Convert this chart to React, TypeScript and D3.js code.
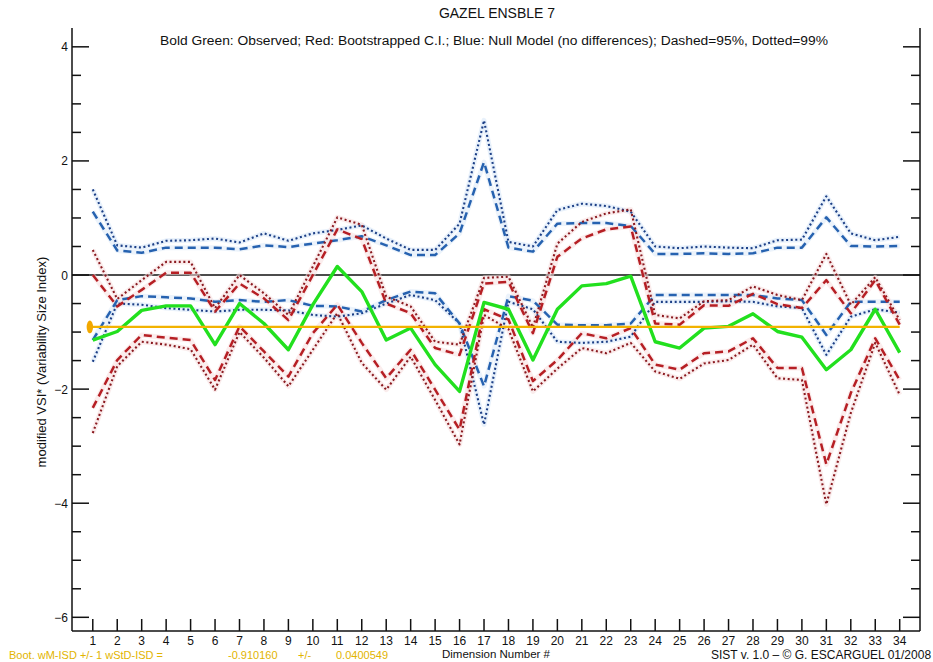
import React from 'react';
import * as d3 from 'd3';

// ---------- data ----------
const dims = [1,2,3,4,5,6,7,8,9,10,11,12,13,14,15,16,17,18,19,20,21,22,23,24,25,26,27,28,29,30,31,32,33,34];

const observed = [-1.14,-0.99,-0.62,-0.54,-0.54,-1.22,-0.5,-0.85,-1.31,-0.52,0.15,-0.29,-1.14,-0.93,-1.57,-2.04,-0.48,-0.6,-1.49,-0.6,-0.19,-0.15,-0.02,-1.17,-1.28,-0.93,-0.9,-0.68,-0.99,-1.09,-1.66,-1.31,-0.6,-1.36];

const nullUp95 = [1.11,0.43,0.39,0.48,0.48,0.48,0.45,0.52,0.49,0.55,0.61,0.68,0.52,0.35,0.35,0.73,1.98,0.48,0.41,0.9,0.91,0.91,0.86,0.37,0.37,0.38,0.37,0.38,0.48,0.48,1.01,0.51,0.5,0.51];
const nullUp99 = [1.5,0.52,0.48,0.6,0.61,0.64,0.57,0.73,0.6,0.73,0.79,0.87,0.64,0.44,0.44,0.9,2.71,0.58,0.5,1.14,1.25,1.21,1.11,0.5,0.47,0.5,0.48,0.47,0.61,0.62,1.38,0.73,0.61,0.67];
const nullLo95 = [-1.14,-0.44,-0.37,-0.39,-0.41,-0.47,-0.44,-0.47,-0.44,-0.54,-0.55,-0.64,-0.44,-0.29,-0.32,-0.85,-1.95,-0.37,-0.45,-0.87,-0.88,-0.88,-0.85,-0.35,-0.35,-0.35,-0.35,-0.35,-0.41,-0.44,-1.05,-0.47,-0.47,-0.47];
const nullLo99 = [-1.52,-0.5,-0.52,-0.58,-0.61,-0.64,-0.61,-0.61,-0.62,-0.7,-0.73,-0.67,-0.5,-0.35,-0.44,-0.85,-2.62,-0.47,-0.6,-1.17,-1.19,-1.17,-1.08,-0.47,-0.47,-0.47,-0.46,-0.47,-0.55,-0.58,-1.4,-0.73,-0.6,-0.66];

const bootUp95 = [0.0,-0.55,-0.26,0.04,0.04,-0.64,-0.15,-0.41,-0.79,0.0,0.8,0.63,-0.5,-0.67,-1.28,-1.4,-0.15,-0.12,-1.02,0.32,0.64,0.8,0.85,-0.85,-0.87,-0.53,-0.54,-0.33,-0.51,-0.58,-0.09,-0.67,-0.09,-0.87];
const bootUp99 = [0.44,-0.42,-0.09,0.23,0.23,-0.58,0.0,-0.32,-0.7,0.15,1.01,0.88,-0.38,-0.55,-1.17,-1.22,-0.05,-0.03,-0.92,0.55,0.93,1.08,1.15,-0.7,-0.76,-0.46,-0.44,-0.2,-0.35,-0.44,0.37,-0.52,-0.04,-0.79];
const bootLo95 = [-2.33,-1.49,-1.05,-1.1,-1.14,-1.84,-0.9,-1.34,-1.78,-1.02,-0.52,-1.19,-1.81,-1.31,-2.01,-2.71,-0.6,-0.78,-1.86,-1.49,-1.02,-1.11,-0.93,-1.57,-1.66,-1.37,-1.34,-1.11,-1.63,-1.63,-3.32,-2.07,-1.11,-1.84];
const bootLo99 = [-2.77,-1.6,-1.17,-1.22,-1.3,-2.01,-1.0,-1.45,-1.95,-1.31,-0.67,-1.54,-2.01,-1.43,-2.19,-2.97,-0.7,-0.95,-2.04,-1.64,-1.28,-1.37,-1.19,-1.69,-1.82,-1.55,-1.49,-1.22,-1.81,-1.84,-4.02,-2.42,-1.19,-2.1];

const bootMean = -0.910160;
const bootSd = 0.0400549;

const yMajorTicks = [-6, -4, -2, 0, 2, 4];
const yMinorTicks = [-5.5,-5,-4.5,-3.5,-3,-2.5,-1.5,-1,-0.5,0.5,1,1.5,2.5,3,3.5];

const titleText = 'GAZEL ENSBLE 7';
const subtitleText = 'Bold Green: Observed; Red: Bootstrapped C.I.; Blue: Null Model (no differences); Dashed=95%, Dotted=99%';
const yAxisTitle = 'modified VSI* (Variability Size Index)';
const xAxisTitle = 'Dimension Number #';
const creditText = 'SIST v. 1.0 \u2013 \u00A9 G. ESCARGUEL 01/2008';

// ---------- layout ----------
const W = 933, H = 662;
const L = 72, R = 920, T = 28, B = 631;
const FONT = '"Liberation Sans", Arial, Helvetica, sans-serif';

export default function App() {
  const x = d3.scaleLinear().domain([0.15, 34.83]).range([L, R]);
  const y = d3.scaleLinear().domain([-6.24, 4.33]).range([B, T]);
  const line = d3.line<number>().x((_, i) => x(dims[i])).y(d => y(d));

  const dotted = '2,2.6';
  const dashed = '8,5';
  const series = [
    { d: nullUp99, c: '#1c3f86', halo: '#d6e6f7', dash: dotted, w: 2.1 },
    { d: nullLo99, c: '#1c3f86', halo: '#d6e6f7', dash: dotted, w: 2.1 },
    { d: nullUp95, c: '#2662b0', halo: '#dce9f7', dash: dashed, w: 2.5 },
    { d: nullLo95, c: '#2662b0', halo: '#dce9f7', dash: dashed, w: 2.5 },
    { d: bootUp99, c: '#8a1a20', halo: '#f5dcdc', dash: dotted, w: 2.1 },
    { d: bootLo99, c: '#8a1a20', halo: '#f5dcdc', dash: dotted, w: 2.1 },
    { d: bootUp95, c: '#b61f24', halo: '#f7dede', dash: dashed, w: 2.5 },
    { d: bootLo95, c: '#b61f24', halo: '#f7dede', dash: dashed, w: 2.5 },
  ];

  const tickFont = { fontFamily: FONT, fontSize: 12, fill: '#111' };

  return (
    <svg width={W} height={H} viewBox={`0 0 ${W} ${H}`}
      style={{ position: 'absolute', left: 0, top: 0, background: '#fff' }}>
      <rect x={0} y={0} width={W} height={H} fill="#fff" />

      {/* titles */}
      <text x={497} y={18} textAnchor="middle" style={{ fontFamily: FONT, fontSize: 14, fill: '#111' }}>{titleText}</text>
      <text x={494} y={45} textAnchor="middle" textLength={668} lengthAdjust="spacingAndGlyphs"
        style={{ fontFamily: FONT, fontSize: 12.5, fill: '#111' }}>{subtitleText}</text>

      {/* zero line */}
      <line x1={L} x2={R} y1={y(0)} y2={y(0)} stroke="#111" strokeWidth={1.3} />

      {/* halos (soft background like the source) */}
      {series.map((s, i) => (
        <path key={'h' + i} d={line(s.d) || ''} fill="none" stroke={s.halo} strokeWidth={5} strokeOpacity={0.55} strokeLinejoin="round" />
      ))}
      {series.map((s, i) => (
        <path key={'s' + i} d={line(s.d) || ''} fill="none" stroke={s.c} strokeWidth={s.w}
          strokeDasharray={s.dash} strokeLinejoin="round" />
      ))}

      {/* observed */}
      <path d={line(observed) || ''} fill="none" stroke="#22e01e" strokeWidth={3.4} strokeLinejoin="round" />

      {/* bootstrap mean line + marker */}
      <line x1={x(0.9)} x2={x(34)} y1={y(bootMean)} y2={y(bootMean)} stroke="#f2b200" strokeWidth={2.2} />
      <ellipse cx={x(0.88)} cy={y(bootMean)} rx={3.2} ry={y(bootMean - bootSd * 2.8) - y(bootMean)}
        fill="#f2a800" />

      {/* axes */}
      <line x1={L} x2={L} y1={T} y2={B} stroke="#111" strokeWidth={1.5} />
      <line x1={R} x2={R} y1={T} y2={B} stroke="#111" strokeWidth={1.5} />
      <line x1={L} x2={R} y1={B} y2={B} stroke="#111" strokeWidth={1.5} />

      {yMajorTicks.map(v => (
        <g key={'ym' + v}>
          <line x1={L} x2={L + 17} y1={y(v)} y2={y(v)} stroke="#111" strokeWidth={1.5} />
          <line x1={R - 17} x2={R} y1={y(v)} y2={y(v)} stroke="#111" strokeWidth={1.5} />
          <text x={L - 4} y={y(v) + 4.5} textAnchor="end" style={tickFont}>{v < 0 ? '\u2212' + Math.abs(v) : String(v)}</text>
        </g>
      ))}
      {yMinorTicks.map(v => (
        <g key={'yn' + v}>
          <line x1={L} x2={L + 9} y1={y(v)} y2={y(v)} stroke="#111" strokeWidth={1.5} />
          <line x1={R - 9} x2={R} y1={y(v)} y2={y(v)} stroke="#111" strokeWidth={1.5} />
        </g>
      ))}
      {dims.map(d => (
        <g key={'xt' + d}>
          <line x1={x(d)} x2={x(d)} y1={B} y2={B - 12} stroke="#111" strokeWidth={1.5} />
          <text x={x(d)} y={B + 14} textAnchor="middle" style={tickFont}>{String(d)}</text>
        </g>
      ))}

      {/* axis titles */}
      <text transform={`translate(46, 362) rotate(-90)`} textAnchor="middle"
        style={{ fontFamily: FONT, fontSize: 13, fill: '#111' }}>{yAxisTitle}</text>
      <text x={(L + R) / 2} y={657.5} textAnchor="middle" style={{ fontFamily: FONT, fontSize: 11.5, fill: '#111' }}>{xAxisTitle}</text>

      {/* bottom annotations */}
      <text y={659} style={{ fontFamily: FONT, fontSize: 11, fill: '#e2b400' }}>
        <tspan x={9}>Boot. wM-ISD +/- 1 wStD-ISD =</tspan>
        <tspan x={228}>{bootMean.toFixed(6)}</tspan>
        <tspan x={298}>+/-</tspan>
        <tspan x={336}>{String(bootSd)}</tspan>
      </text>
      <text x={711} y={659} style={{ fontFamily: FONT, fontSize: 12, fill: '#111' }}>{creditText}</text>
    </svg>
  );
}
